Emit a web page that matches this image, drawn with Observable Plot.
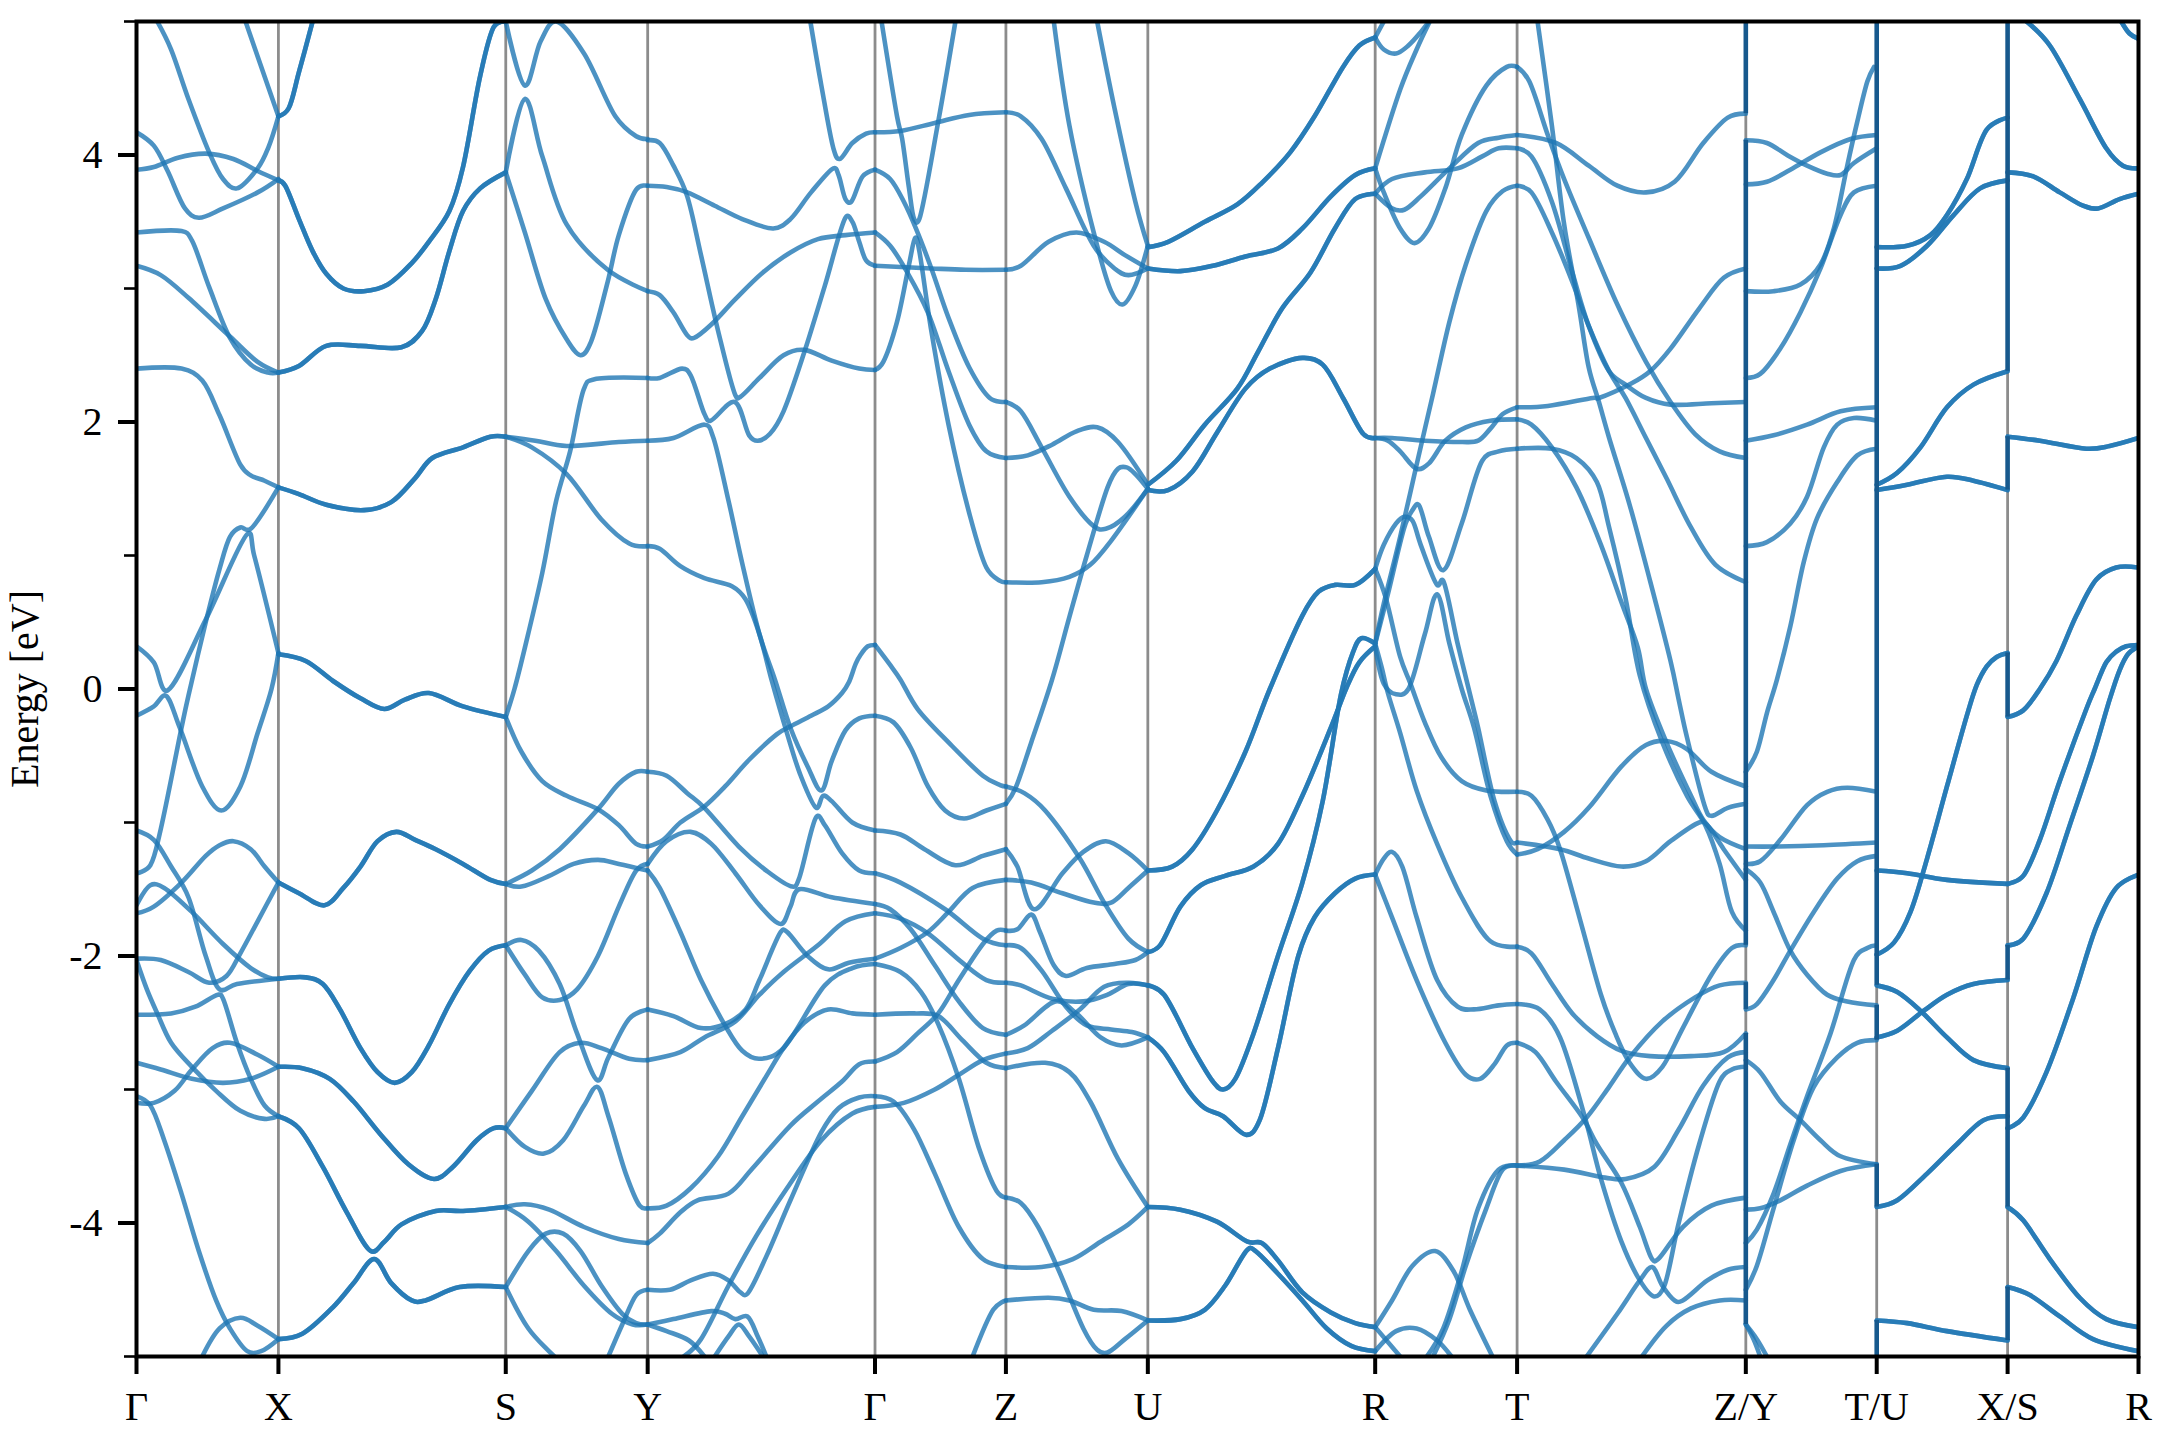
<!DOCTYPE html>
<html><head><meta charset="utf-8">
<script src="https://cdn.jsdelivr.net/npm/d3@7"></script>
<script src="https://cdn.jsdelivr.net/npm/@observablehq/plot@0.6"></script>
<style>html,body{margin:0;padding:0;background:#fff}svg{display:block}</style>
</head><body><div id="chart"></div>
<script>
const pathLabels=["Γ","X","S","Y","Γ","Z","U","R","T","Z/Y","T/U","X/S","R"];
const pathK=[0,1.03,2.68,3.71,5.36,6.31,7.34,8.99,10.02,11.68,12.63,13.58,14.53];
const majorE=[-4,-2,0,2,4];
const minorE=[-5,-3,-1,1,3,5];

// each band: sample, energy, sample, energy ... (sample = position along that path leg)
const GX=[
[110,5,150,4.79,200,4.42,260,4.02,300,3.82,340,3.75,400,3.9,430,4.05,460,4.29],
[365,5,460,4.29],
[50,4.17,100,4.07,140,3.88,190,3.6,230,3.53,300,3.6,400,3.72,460,3.82],
[50,3.89,100,3.91,170,3.98,250,4.01,330,3.97,400,3.88,460,3.81],
[50,3.42,180,3.43,210,3.36,260,3.01,320,2.63,380,2.43,430,2.37,460,2.37],
[50,3.17,120,3.1,200,2.93,320,2.64,400,2.45,460,2.37],
[50,2.4,180,2.4,240,2.31,290,2.05,350,1.68,380,1.6,420,1.56,460,1.51],
[50,-1.38,90,-1.32,120,-1.05,180,-.29,200,-.05,250,.5,290,.9,320,1.14,350,1.21,380,1.2,460,1.51],
[50,.32,100,.2,140,-.01,250,.52,370,1.16,390,1,460,.27],
[50,-.2,100,-.13,135,-.05,175,-.29,240,-.73,295,-.91,350,-.73,400,-.33,440,0,460,.27],
[50,-1.06,100,-1.13,150,-1.33,200,-1.56,250,-2,290,-2.25,340,-2.21,460,-2.17],
[50,-1.62,90,-1.47,130,-1.49,210,-1.67,300,-1.91,380,-2.09,430,-2.16,460,-2.17],
[50,-1.68,100,-1.63,180,-1.45,250,-1.25,290,-1.17,330,-1.14,380,-1.2,420,-1.33,460,-1.45],
[50,-2.02,120,-2.03,200,-2.12,260,-2.2,310,-2.15,350,-1.98,400,-1.74,460,-1.45],
[50,-2.03,80,-2.25,110,-2.43,150,-2.65,210,-2.83,280,-3.01,350,-3.16,420,-3.22,460,-3.2],
[50,-2.44,150,-2.43,220,-2.38,285,-2.29,300,-2.32,340,-2.65,380,-2.92,420,-3.12,460,-3.2],
[50,-2.8,120,-2.85,210,-2.92,300,-2.95,380,-2.92,460,-2.83],
[50,-3.1,100,-3.1,160,-3.01,210,-2.85,270,-2.69,320,-2.65,400,-2.74,460,-2.83],
[50,-3.05,90,-3.12,130,-3.38,180,-3.78,230,-4.21,280,-4.58,320,-4.79,370,-4.96,410,-4.96,460,-4.87],
[240,-5,290,-4.79,350,-4.71,400,-4.77,460,-4.87]
];
const XS=[
[460,4.29,490,4.35,520,4.62,560,5],
[460,3.81,480,3.77,520,3.52,560,3.28,600,3.11,650,3,710,2.98,780,3.03,850,3.19,900,3.35,960,3.58,1000,3.91,1050,4.59,1090,4.96,1125,5],
[460,2.37,520,2.42,600,2.57,700,2.57,820,2.56,880,2.68,920,2.92,960,3.28,1000,3.58,1050,3.75,1125,3.87],
[460,1.51,520,1.46,600,1.38,710,1.34,790,1.4,860,1.58,910,1.73,1000,1.81,1080,1.89,1125,1.89],
[460,.26,540,.21,620,.06,700,-.07,770,-.15,830,-.08,900,-.03,1000,-.13,1125,-.21],
[460,-2.17,540,-2.16,590,-2.21,640,-2.4,700,-2.69,750,-2.87,800,-2.95,850,-2.87,900,-2.67,960,-2.36,1020,-2.11,1075,-1.96,1125,-1.92],
[460,-1.45,520,-1.53,595,-1.62,650,-1.49,700,-1.33,750,-1.14,805,-1.07,860,-1.13,920,-1.2,1000,-1.31,1080,-1.43,1125,-1.46],
[460,-2.83,530,-2.84,610,-2.92,680,-3.09,760,-3.34,840,-3.56,915,-3.67,970,-3.58,1040,-3.38,1090,-3.29,1125,-3.29],
[460,-3.2,520,-3.29,590,-3.58,660,-3.92,730,-4.21,770,-4.14,820,-4.01,920,-3.91,1000,-3.91,1125,-3.88],
[460,-4.87,530,-4.83,620,-4.63,680,-4.45,740,-4.27,790,-4.45,850,-4.58,890,-4.58,990,-4.48,1125,-4.48]
];
const SY=[
[1125,5,1180,4.52,1225,4.85,1270,5,1350,4.76,1440,4.29,1500,4.14,1533,4.12],
[1125,3.87,1180,4.42,1230,3.99,1300,3.48,1418,3.14,1533,2.98],
[1125,3.87,1180,3.42,1240,2.92,1300,2.62,1340,2.5,1370,2.6,1418,3.05,1450,3.4,1500,3.74,1533,3.77],
[1125,-.21,1150,0,1180,.31,1230,.87,1270,1.41,1310,1.78,1350,2.25,1380,2.32,1533,2.33],
[1125,1.89,1210,1.86,1300,1.82,1450,1.85,1533,1.86],
[1125,1.89,1200,1.81,1300,1.61,1400,1.27,1480,1.09,1533,1.07],
[1125,-.21,1170,-.47,1230,-.69,1300,-.8,1390,-.9,1450,-1.02,1500,-1.16,1533,-1.18],
[1125,-1.46,1200,-1.36,1280,-1.2,1390,-.9,1450,-.71,1500,-.62,1533,-.62],
[1125,-1.46,1170,-1.48,1250,-1.4,1320,-1.31,1390,-1.28,1450,-1.31,1533,-1.36],
[1125,-1.92,1170,-1.88,1220,-1.96,1280,-2.21,1330,-2.58,1388,-2.93,1420,-2.76,1480,-2.47,1533,-2.4],
[1125,-1.92,1180,-2.14,1230,-2.31,1280,-2.33,1330,-2.25,1390,-2,1450,-1.63,1500,-1.36,1533,-1.31],
[1125,-3.29,1200,-3.01,1280,-2.72,1340,-2.65,1400,-2.69,1480,-2.77,1533,-2.78],
[1125,-3.29,1180,-3.43,1235,-3.48,1290,-3.38,1350,-3.12,1388,-2.98,1420,-3.2,1470,-3.63,1510,-3.87,1533,-3.89],
[1125,-3.88,1180,-3.86,1250,-3.9,1350,-4.03,1450,-4.12,1533,-4.15],
[1125,-3.88,1190,-3.99,1270,-4.21,1350,-4.47,1430,-4.68,1490,-4.76,1533,-4.76],
[1125,-4.48,1190,-4.21,1240,-4.08,1290,-4.08,1340,-4.21,1400,-4.47,1460,-4.68,1500,-4.75,1533,-4.76],
[1125,-4.48,1190,-4.79,1265,-5],
[1420,-5,1460,-4.76,1500,-4.54,1533,-4.5]
];
const YG=[
[25,4.11,60,4.09,100,3.92,140,3.69,180,3.25,230,2.68,280,2.2,295,2.19,350,2.33,420,2.5,480,2.54,560,2.46,640,2.4,686,2.39],
[25,3.77,80,3.76,140,3.72,220,3.62,300,3.52,390,3.45,440,3.52,500,3.72,565,3.9,580,3.85,600,3.67,617,3.65,650,3.84,686,3.89],
[25,2.98,60,2.95,100,2.82,140,2.65,160,2.63,210,2.73,280,2.92,360,3.12,440,3.27,520,3.37,600,3.4,686,3.42],
[498,5,530,4.52,565,4.05,583,3.97,620,4.09,660,4.16,686,4.17],
[25,2.33,60,2.33,125,2.4,150,2.35,190,2.06,208,2.01,278,2.15,320,1.9,345,1.86,380,1.91,420,2.08,480,2.52,540,3.02,600,3.53,620,3.5,640,3.35,660,3.21,686,3.17],
[25,1.86,100,1.88,190,1.98,215,1.89,260,1.41,300,.94,350,.41,395,.07,440,-.29,490,-.58,530,-.76,560,-.54,600,-.31,640,-.22,686,-.2],
[25,1.07,60,1.05,120,.92,190,.83,270,.77,310,.67,350,.41,385,.07,430,-.33,470,-.65,515,-.89,535,-.8,560,-.84,620,-1,686,-1.06],
[25,-.62,80,-.65,140,-.78,190,-.89,290,-1.18,370,-1.36,445,-1.48,465,-1.42,515,-.96,540,-1.02,590,-1.23,640,-1.36,686,-1.38],
[25,-1.18,70,-1.13,120,-1,190,-.88,250,-.73,320,-.53,400,-.34,440,-.28,500,-.2,550,-.13,590,-.03,610,.05,630,.19,645,.26,665,.32,686,.33],
[25,-1.31,80,-1.14,150,-1.07,210,-1.16,280,-1.38,350,-1.62,412,-1.76,440,-1.63,465,-1.5,560,-1.56,686,-1.61],
[25,-1.36,60,-1.49,120,-1.82,180,-2.18,250,-2.52,300,-2.71,350,-2.77,420,-2.69,540,-2.22,620,-2.09,686,-2.06],
[25,-2.4,100,-2.45,180,-2.54,250,-2.51,310,-2.4,350,-2.18,412,-1.82,430,-1.82,490,-2,550,-2.1,610,-2.05,686,-2.02],
[25,-2.78,120,-2.72,190,-2.61,280,-2.49,350,-2.29,420,-2.12,520,-1.92,600,-1.74,686,-1.68],
[25,-3.89,80,-3.87,150,-3.74,230,-3.5,300,-3.2,370,-2.9,420,-2.69,480,-2.5,550,-2.4,620,-2.43,686,-2.44],
[25,-4.15,60,-4.08,120,-3.92,170,-3.83,260,-3.78,330,-3.59,440,-3.27,520,-3.09,590,-2.94,640,-2.81,686,-2.79],
[25,-4.5,90,-4.5,150,-4.43,215,-4.38,260,-4.43,295,-4.52,315,-4.53,370,-4.25,440,-3.83,530,-3.32,580,-3.14,640,-3.06,686,-3.05],
[25,-4.76,100,-4.72,210,-4.66,250,-4.68,280,-4.72,315,-4.7,345,-4.85,370,-5],
[25,-4.76,80,-4.81,145,-4.88,190,-5],
[130,-5,180,-4.87,260,-4.47,340,-4.1,430,-3.74,530,-3.38,620,-3.18,686,-3.13],
[220,-5,260,-4.85,290,-4.76,320,-4.85,360,-5]
];
const GZ=[
[686,4.17,760,4.18,860,4.24,960,4.3,1067,4.32],
[686,3.89,730,3.82,770,3.65,805,3.45,850,3.15,900,2.78,960,2.41,1020,2.18,1067,2.15],
[686,3.42,730,3.32,780,3.12,840,2.82,900,2.38,960,1.98,1010,1.78,1067,1.73],
[705,5,750,4.29,765,4.12,785,3.75,800,3.52,815,3.52,870,4.25,920,5],
[686,2.39,710,2.45,750,2.75,785,3.18,803,3.38,815,3.28,850,2.68,900,1.98,960,1.32,1010,.91,1050,.81,1067,.8],
[686,3.17,850,3.15,950,3.14,1067,3.14],
[686,.33,730,.18,760,.07,810,-.15,900,-.4,1000,-.65,1050,-.72,1067,-.73],
[686,-.2,740,-.25,790,-.44,840,-.73,890,-.91,945,-.97,1010,-.91,1067,-.86],
[686,-1.06,760,-1.09,830,-1.2,920,-1.32,1000,-1.25,1067,-1.2],
[686,-1.38,760,-1.45,890,-1.65,1000,-1.87,1067,-1.92],
[686,-1.61,730,-1.65,790,-1.8,860,-2.07,930,-2.34,1000,-2.54,1067,-2.59],
[686,-1.68,760,-1.72,840,-1.83,940,-2.05,1010,-2.18,1067,-2.2],
[686,-2.02,760,-1.94,840,-1.82,900,-1.67,970,-1.49,1067,-1.43],
[686,-2.06,760,-2.12,820,-2.27,870,-2.51,930,-2.92,990,-3.45,1040,-3.76,1067,-3.81],
[686,-2.44,800,-2.43,870,-2.45,940,-2.63,1010,-2.8,1067,-2.84],
[686,-2.79,750,-2.72,810,-2.58,870,-2.43,930,-2.18,1000,-1.91,1040,-1.81,1067,-1.81],
[686,-3.05,740,-3.09,800,-3.3,860,-3.63,930,-4.03,1000,-4.27,1067,-4.33],
[686,-3.13,770,-3.1,860,-3,930,-2.89,1000,-2.78,1067,-2.73],
[970,-5,1030,-4.65,1067,-4.58]
];
const ZU=[
[1067,4.32,1110,4.29,1170,4.12,1240,3.75,1320,3.32,1380,3.15,1420,3.1,1476,3.15],
[1205,5,1250,4.22,1320,3.42,1370,2.98,1403,2.88,1440,3.02,1476,3.32],
[1330,5,1380,4.35,1440,3.65,1476,3.32],
[1067,3.14,1110,3.17,1190,3.35,1270,3.42,1350,3.35,1410,3.25,1476,3.15],
[1067,2.15,1110,2.08,1170,1.81,1250,1.44,1320,1.22,1355,1.2,1410,1.29,1476,1.5],
[1067,1.73,1130,1.75,1200,1.83,1270,1.93,1330,1.96,1390,1.85,1476,1.53],
[1067,.8,1170,.8,1250,.84,1310,.93,1370,1.11,1476,1.5],
[1067,-.86,1095,-.74,1140,-.4,1200,.07,1250,.54,1300,1,1360,1.51,1390,1.65,1415,1.66,1440,1.61,1476,1.5],
[1067,-.73,1120,-.78,1180,-.91,1280,-1.27,1350,-1.6,1420,-1.87,1476,-1.97],
[1067,-1.2,1100,-1.33,1148,-1.65,1230,-1.38,1290,-1.22,1355,-1.14,1420,-1.23,1476,-1.36],
[1067,-1.81,1100,-1.8,1140,-1.69,1165,-1.82,1205,-2.07,1240,-2.15,1300,-2.09,1380,-2.06,1440,-2.03,1476,-1.97],
[1067,-1.43,1140,-1.45,1230,-1.53,1320,-1.6,1370,-1.6,1420,-1.49,1476,-1.36],
[1067,-1.92,1110,-1.94,1170,-2.11,1240,-2.38,1300,-2.52,1370,-2.55,1430,-2.57,1476,-2.61],
[1067,-2.2,1110,-2.22,1200,-2.32,1290,-2.34,1360,-2.29,1420,-2.21,1476,-2.22],
[1067,-2.59,1120,-2.52,1210,-2.34,1270,-2.43,1340,-2.61,1400,-2.67,1476,-2.61],
[1067,-2.73,1130,-2.69,1200,-2.56,1280,-2.4,1350,-2.23,1420,-2.2,1476,-2.22],
[1067,-2.84,1180,-2.8,1250,-2.87,1310,-3.09,1390,-3.52,1476,-3.88],
[1067,-3.81,1110,-3.85,1160,-4.03,1220,-4.36,1290,-4.79,1330,-4.95,1360,-4.97,1410,-4.87,1476,-4.73],
[1067,-4.33,1170,-4.33,1260,-4.27,1340,-4.14,1420,-4.01,1476,-3.88],
[1067,-4.58,1190,-4.56,1250,-4.58,1320,-4.65,1400,-4.66,1476,-4.73]
];
const UR=[
[20,3.31,70,3.35,160,3.5,240,3.63,300,3.79,370,4.02,430,4.29,500,4.66,540,4.82,579,4.88],
[20,3.15,100,3.13,180,3.17,260,3.24,340,3.3,400,3.45,470,3.69,530,3.85,579,3.9],
[20,1.53,90,1.71,160,1.98,240,2.25,290,2.52,350,2.85,420,3.12,480,3.45,530,3.67,579,3.71],
[20,1.49,70,1.49,130,1.63,190,1.92,260,2.25,320,2.4,400,2.48,450,2.43,500,2.18,550,1.91,579,1.88],
[20,-1.36,80,-1.33,130,-1.2,190,-.91,260,-.47,320,0,400,.55,440,.73,480,.78,530,.78,579,.9],
[20,-1.97,50,-1.92,100,-1.63,150,-1.47,210,-1.4,280,-1.33,340,-1.16,400,-.8,470,-.29,510,.02,540,.2,579,.32],
[20,-2.22,60,-2.29,130,-2.69,180,-2.94,205,-3,235,-2.92,280,-2.58,340,-2,400,-1.45,450,-.84,495,-.04,525,.28,545,.38,579,.34],
[20,-2.61,60,-2.72,120,-3.01,160,-3.14,205,-3.2,262,-3.34,295,-3.23,340,-2.69,390,-2,430,-1.71,480,-1.53,530,-1.42,579,-1.39],
[20,-3.88,100,-3.9,190,-3.99,265,-4.14,300,-4.15,340,-4.28,400,-4.52,470,-4.67,530,-4.75,579,-4.78],
[20,-4.73,100,-4.72,160,-4.65,210,-4.47,265,-4.2,285,-4.21,340,-4.38,400,-4.58,460,-4.79,520,-4.92,579,-4.96]
];
const RT=[
[579,4.88,600,4.79,630,4.76,660,4.82,690,4.92,710,5],
[579,4.88,600,5],
[579,3.9,640,4.49,680,4.79,712,5],
[579,3.9,600,3.72,640,3.45,675,3.34,710,3.45,750,3.75,790,4.15,850,4.52,900,4.66,925,4.66],
[579,3.71,620,3.6,650,3.59,690,3.69,760,3.9,830,4.09,880,4.13,925,4.15],
[579,3.71,620,3.82,700,3.87,780,3.9,840,3.99,880,4.05,925,4.05],
[579,1.88,620,1.88,700,1.86,790,1.85,830,1.86,860,1.95,890,2.06,925,2.11],
[579,1.88,610,1.86,640,1.78,680,1.65,710,1.69,750,1.86,800,1.96,860,2.01,925,2.02],
[579,.34,600,.64,640,1.14,680,1.68,720,2.21,760,2.75,800,3.18,850,3.58,890,3.73,925,3.77],
[579,.9,600,1.08,630,1.24,650,1.29,670,1.26,690,1.08,730,.78,745,.81,780,.34,815,-.1,830,-.29,870,-.84,910,-1.14,925,-1.15],
[579,.34,610,.71,650,1.21,670,1.34,685,1.38,710,1.14,745,.89,790,1.24,840,1.71,880,1.78,925,1.8],
[579,.32,600,.04,630,-.04,660,0,700,.41,730,.71,760,.34,790,0,820,-.29,860,-.8,900,-1.14,925,-1.24],
[579,.34,595,.16,610,-.03,640,-.33,680,-.76,730,-1.16,790,-1.56,860,-1.89,925,-1.93],
[579,.9,605,.68,640,.24,665,.04,700,-.25,740,-.51,790,-.69,850,-.76,925,-.77],
[579,-1.39,600,-1.27,620,-1.22,645,-1.33,680,-1.71,730,-2.18,780,-2.38,820,-2.4,880,-2.37,925,-2.36],
[579,-1.39,620,-1.71,680,-2.18,750,-2.65,800,-2.89,835,-2.92,870,-2.81,900,-2.67,925,-2.65],
[579,-4.78,620,-4.58,670,-4.32,725,-4.21,770,-4.36,810,-4.65,865,-5],
[579,-4.78,640,-5],
[579,-4.96,630,-4.81,680,-4.79,730,-4.88,765,-5],
[705,-5,745,-4.79,790,-4.36,830,-3.89,880,-3.6,925,-3.57],
[720,-5,760,-4.72,800,-4.32,850,-3.89,890,-3.6,925,-3.57]
];
const TZ=[
[975,5,1010,4.22,1040,3.48,1075,2.88,1100,2.41,1125,2.15,1150,1.88,1200,1.38,1250,.81,1300,.21,1320,-.08,1340,-.36,1385,-.89,1400,-.95,1440,-.89,1484,-.86],
[925,4.15,1020,4.09,1100,3.92,1170,3.77,1240,3.72,1310,3.8,1380,4.09,1440,4.28,1484,4.31],
[925,4.05,960,3.99,1010,3.65,1060,3.12,1100,2.72,1150,2.38,1190,2.28,1240,2.18,1300,2.13,1400,2.14,1484,2.15],
[925,4.66,955,4.55,1000,4.15,1040,3.82,1100,3.38,1170,2.88,1240,2.45,1300,2.15,1360,1.91,1420,1.78,1484,1.73],
[925,3.77,960,3.72,1010,3.42,1060,3.05,1100,2.72,1150,2.38,1190,2.18,1240,1.88,1290,1.58,1350,1.21,1410,.93,1484,.8],
[925,2.11,1000,2.12,1110,2.18,1125,2.18,1205,2.29,1250,2.38,1300,2.55,1370,2.85,1430,3.08,1484,3.15],
[925,2.02,960,1.98,1010,1.81,1070,1.51,1130,1.08,1180,.65,1220,.31,1240,0,1290,-.4,1350,-.8,1380,-.98,1420,-1.11,1484,-1.2],
[925,1.8,1010,1.8,1070,1.73,1120,1.55,1150,1.21,1190,.68,1225,.1,1280,-.4,1340,-.8,1385,-1.02,1420,-1.31,1450,-1.67,1484,-1.81],
[925,-.77,960,-.8,1000,-.98,1030,-1.2,1080,-1.74,1130,-2.29,1165,-2.58,1200,-2.8,1240,-2.92,1280,-2.83,1330,-2.54,1400,-2.14,1450,-1.94,1484,-1.92],
[925,-1.15,1030,-1.2,1100,-1.27,1180,-1.33,1240,-1.29,1300,-1.14,1370,-1,1390,-1.02,1430,-1.2,1484,-1.43],
[925,-1.24,975,-1.2,1040,-1.07,1100,-.89,1180,-.58,1240,-.42,1290,-.39,1340,-.45,1400,-.62,1484,-.73],
[925,-1.93,960,-1.98,1010,-2.21,1060,-2.43,1120,-2.6,1180,-2.71,1250,-2.75,1350,-2.75,1430,-2.72,1484,-2.58],
[925,-2.36,980,-2.4,1030,-2.61,1090,-3.2,1130,-3.67,1180,-4.14,1225,-4.43,1260,-4.55,1285,-4.47,1320,-4,1370,-3.41,1420,-2.94,1450,-2.85,1484,-2.83],
[925,-2.65,970,-2.72,1020,-2.94,1085,-3.21,1120,-3.41,1180,-3.7,1225,-4.03,1255,-4.27,1270,-4.27,1330,-4.03,1400,-3.87,1484,-3.81],
[925,-3.57,980,-3.54,1040,-3.38,1095,-3.21,1150,-2.98,1200,-2.76,1280,-2.49,1360,-2.31,1420,-2.22,1484,-2.2],
[925,-3.57,1040,-3.6,1140,-3.66,1190,-3.67,1260,-3.58,1320,-3.3,1380,-2.97,1440,-2.76,1484,-2.72],
[1095,-5,1170,-4.68,1225,-4.43,1255,-4.33,1280,-4.47,1310,-4.58,1330,-4.58,1390,-4.43,1440,-4.35,1484,-4.33],
[1230,-5,1290,-4.77,1350,-4.64,1420,-4.58,1484,-4.58]
];
const YT=[
[17,4.11,80,4.09,140,4,200,3.92,260,3.86,300,3.85,340,3.94,408,4.05],
[17,3.78,80,3.8,150,3.89,240,4.02,330,4.12,408,4.15],
[17,2.98,100,2.98,180,3.03,240,3.18,280,3.45,320,3.92,350,4.25,380,4.55,400,4.66],
[17,2.33,60,2.36,120,2.55,180,2.82,240,3.15,300,3.55,340,3.72,408,3.77],
[17,1.86,100,1.9,200,1.98,300,2.08,408,2.11],
[17,1.07,80,1.1,150,1.24,200,1.44,250,1.81,290,1.98,340,2.03,408,2.01],
[17,-.62,50,-.47,80,-.18,110,.07,150,.47,190,.95,230,1.28,290,1.55,350,1.75,408,1.8],
[17,-1.18,110,-1.18,250,-1.17,408,-1.15],
[17,-1.31,60,-1.29,120,-1.13,200,-.87,260,-.77,320,-.74,408,-.77],
[17,-1.35,60,-1.45,100,-1.67,150,-1.96,200,-2.14,260,-2.29,320,-2.34,408,-2.37],
[17,-2.4,50,-2.36,100,-2.18,150,-1.96,220,-1.67,290,-1.42,350,-1.29,408,-1.25],
[17,-2.78,60,-2.87,120,-3.09,180,-3.23,240,-3.38,300,-3.5,408,-3.56],
[17,-3.9,60,-3.89,120,-3.83,200,-3.72,300,-3.61,408,-3.56],
[17,-4.15,50,-4.05,100,-3.78,150,-3.41,200,-3.05,270,-2.58,340,-2.03,380,-1.94,408,-1.92],
[17,-4.5,50,-4.32,100,-3.89,160,-3.38,220,-2.98,290,-2.76,350,-2.65,408,-2.63],
[17,-4.76,50,-4.87,80,-5],
[17,-4.76,40,-4.87,60,-5]
];
const UX=[
[408,3.31,500,3.32,570,3.4,620,3.55,680,3.82,740,4.19,803,4.28],
[408,3.15,480,3.17,560,3.32,640,3.55,720,3.75,803,3.81],
[408,1.53,470,1.62,540,1.81,620,2.11,700,2.28,803,2.38],
[408,1.49,500,1.53,620,1.59,700,1.56,803,1.49],
[408,-1.36,500,-1.38,620,-1.43,803,-1.46],
[408,-1.99,460,-1.9,510,-1.67,560,-1.27,620,-.73,680,-.2,710,.03,740,.17,770,.24,803,.27],
[408,-2.22,470,-2.27,540,-2.41,620,-2.61,700,-2.78,803,-2.84],
[408,-2.61,470,-2.56,550,-2.41,620,-2.29,700,-2.21,803,-2.18],
[408,-3.88,470,-3.83,560,-3.63,650,-3.41,730,-3.23,803,-3.2],
[408,-4.73,500,-4.75,620,-4.81,803,-4.88]
];
const SR=[
[860,5,930,4.82,1020,4.42,1100,4.05,1150,3.92,1197,3.9],
[1145,5,1170,4.91,1197,4.87],
[803,3.87,880,3.84,960,3.72,1030,3.62,1075,3.6,1140,3.67,1197,3.71],
[803,1.89,900,1.86,1040,1.8,1110,1.82,1197,1.88],
[803,-.21,850,-.16,900,.0,950,.21,1010,.55,1070,.82,1130,.91,1197,.91],
[803,-1.46,850,-1.4,900,-1.13,960,-.69,1040,-.15,1065,0,1100,.2,1130,.28,1160,.32,1197,.33],
[803,-1.92,850,-1.87,920,-1.53,990,-1.02,1060,-.5,1110,-.08,1140,.14,1165,.26,1197,.32],
[803,-3.29,850,-3.21,920,-2.87,1000,-2.32,1070,-1.78,1130,-1.49,1197,-1.39],
[803,-3.88,850,-3.98,930,-4.27,1020,-4.56,1100,-4.72,1197,-4.78],
[803,-4.48,870,-4.54,960,-4.7,1060,-4.87,1197,-4.96]
];
// leg table: bands, reading at the start and end of the leg, index of the start label, doubled (spin-degenerate) bands
const legs=[
[GX,50,460,0,false],[XS,460,1125,1,true],[SY,1125,1533,2,false],[YG,25,686,3,false],
[GZ,686,1067,4,false],[ZU,1067,1476,5,false],[UR,20,579,6,true],[RT,579,925,7,false],
[TZ,925,1484,8,false],[YT,17,408,9,false],[UX,408,803,10,true],[SR,803,1197,11,true]
];
// energy jumps at the discontinuous path points
const jumpZY=[[5,4.31],[4.11,-1.92],[-2.2,-2.4],[-2.58,-4.76]];
const jumpTU=[[5,-2.22],[-2.37,-2.63],[-3.56,-3.88],[-4.73,-5]];
const jumpXS=[[5,2.38],[1.89,1.49],[.27,-.21],[-1.92,-2.18],[-2.84,-3.88],[-4.48,-4.88]];

const rows=[];
legs.forEach(([bands,a,b,i,dup],li)=>{
  bands.forEach((f,bi)=>{
    for(let c=0;c<(dup?2:1);c++){
      for(let j=0;j<f.length;j+=2){
        rows.push({id:`${li}-${bi}-${c}`,k:pathK[i]+(f[j]-a)/(b-a)*(pathK[i+1]-pathK[i]),E:f[j+1]});
      }
    }
  });
});
const jumps=[[jumpZY,9],[jumpTU,10],[jumpXS,11]].flatMap(([list,i])=>list.map(([a,b])=>({k:pathK[i],a,b})));

const chart=Plot.plot({
  width:2160,height:1440,
  marginLeft:136,marginRight:22,marginTop:21,marginBottom:84,
  style:{fontFamily:"'Liberation Serif',serif",fontSize:"40px",background:"#fff",color:"#000"},
  x:{domain:[0,14.53],label:null},
  y:{domain:[-5,5],label:null},
  marks:[
    Plot.ruleX(pathK.slice(1,-1),{stroke:"#000",strokeOpacity:.45,strokeWidth:2.8}),
    Plot.line(rows,{x:"k",y:"E",z:"id",curve:d3.curveCatmullRom.alpha(0.2),stroke:"#1f77b4",strokeOpacity:.8,strokeWidth:4.6,clip:"frame"}),
    Plot.ruleX(jumps,{x:"k",y1:"a",y2:"b",stroke:"#17598d",strokeWidth:4.6,clip:"frame"}),
    Plot.axisY(minorE,{anchor:"left",tickSize:12,strokeWidth:2.6,tickFormat:()=>"",label:null}),
    Plot.axisY(majorE,{anchor:"left",tickSize:18,tickPadding:16,strokeWidth:4,tickFormat:d=>String(d),label:"Energy [eV]",labelAnchor:"center",labelArrow:"none",labelOffset:127}),
    Plot.axisX(pathK,{anchor:"bottom",tickSize:18,tickPadding:17,strokeWidth:4,tickFormat:(d,i)=>pathLabels[i],label:null}),
    Plot.frame({stroke:"#000",strokeWidth:4})
  ]
});
document.getElementById("chart").append(chart);
</script></body></html>
